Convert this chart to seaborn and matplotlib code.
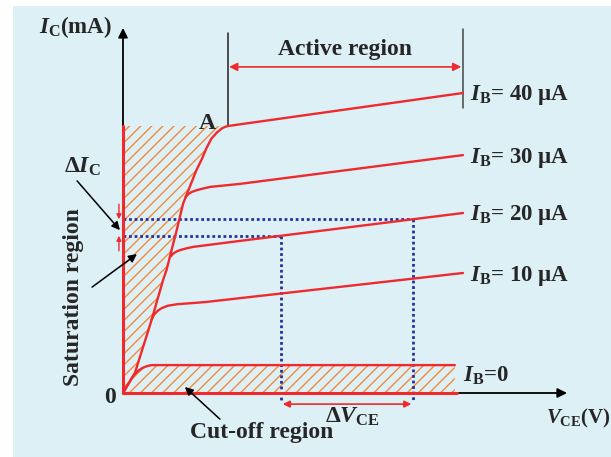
import numpy as np
import pandas as pd
import seaborn as sns
import matplotlib.pyplot as plt
from matplotlib.patches import Rectangle

# output characteristics of a CE transistor, VCE in V, IC in mA
vce_40 = [0, 0.26, 0.35, 0.59, 0.84, 1.18, 1.28, 1.58, 1.77, 2.16, 2.32, 2.45, 2.60,
          2.76, 2.91, 3.00, 3.09, 10.0]
ic_40 = [0, 0.50, 0.67, 1.53, 2.43, 3.77, 4.10, 5.43, 6.32, 7.43, 7.80, 8.15, 8.48,
         8.68, 8.82, 8.87, 8.90, 10.0]
vce_30 = [1.84, 1.92, 2.02, 2.14, 2.30, 2.56, 3.44, 10.0]
ic_30 = [6.53, 6.63, 6.70, 6.75, 6.80, 6.87, 6.97, 7.93]
vce_20 = [1.40, 1.48, 1.58, 1.70, 1.86, 2.06, 3.44, 10.0]
ic_20 = [4.55, 4.65, 4.72, 4.77, 4.82, 4.87, 5.07, 6.00]
vce_10 = [0.84, 0.92, 1.02, 1.14, 1.32, 1.60, 2.41, 10.0]
ic_10 = [2.45, 2.62, 2.74, 2.83, 2.91, 2.96, 3.03, 4.00]
vce_0 = [0, 0.26, 0.36, 0.46, 0.58, 0.72, 0.84, 9.76]
ic_0 = [0, 0.50, 0.64, 0.75, 0.84, 0.90, 0.93, 0.93]

ib_labels = ["40", "30", "20", "10", "0"]
knee_a = 16  # index of point A on the 40 uA curve
dv_points = [4.65, 8.53]  # VCE used for the delta construction

red = "#ee2a2e"
hatch_col = "#f28a3c"
blue = "#23339a"

sns.set_theme(style="white")
plt.rcParams["font.family"] = ["Liberation Serif", "DejaVu Serif"]
plt.rcParams["font.weight"] = "bold"
plt.rcParams["mathtext.fontset"] = "custom"
plt.rcParams["mathtext.rm"] = "Liberation Serif:bold"
plt.rcParams["mathtext.it"] = "Liberation Serif:italic:bold"
plt.rcParams["mathtext.bf"] = "Liberation Serif:bold"
plt.rcParams["hatch.linewidth"] = 1.0

curves = [(vce_40, ic_40), (vce_30, ic_30), (vce_20, ic_20), (vce_10, ic_10), (vce_0, ic_0)]
rows = []
for lab, (xs, ys) in zip(ib_labels, curves):
    for x, y in zip(xs, ys):
        rows.append({"VCE": x, "IC": y, "IB": lab})
df = pd.DataFrame(rows)

fig = plt.figure(figsize=(6.11, 4.57), dpi=100)
fig.patches.append(Rectangle((13 / 611, 0), 1, 451 / 457, transform=fig.transFigure,
                             facecolor="#ddf0f6", edgecolor="none", zorder=-5))
ax = fig.add_axes([0, 0, 1, 1])
ax.set_xlim(-123 / 34, 488 / 34)
ax.set_ylim(-64 / 30, 393 / 30)
ax.axis("off")
ax.patch.set_alpha(0)

# hatched regions
ax.fill_betweenx(ic_40[:knee_a + 1], 0, vce_40[:knee_a + 1], facecolor="none",
                 edgecolor=hatch_col, hatch="///", linewidth=0, zorder=1)
ax.fill_between(vce_0, 0, ic_0, facecolor="none", edgecolor=hatch_col,
                hatch="///", linewidth=0, zorder=1)

# axes with arrows
ax.annotate("", xy=(0, 12.17), xytext=(0, 0),
            arrowprops=dict(arrowstyle="-|>", color="black", lw=1.3, mutation_scale=14,
                            shrinkA=0, shrinkB=0))
ax.annotate("", xy=(13.06, 0), xytext=(0, 0),
            arrowprops=dict(arrowstyle="-|>", color="black", lw=1.3, mutation_scale=14,
                            shrinkA=0, shrinkB=0))
ax.plot([0, 0], [0, ic_40[knee_a]], color=red, lw=2.2, zorder=3)
ax.plot([0, vce_0[-1] + 0.05], [0, 0], color=red, lw=2.2, zorder=3)

# characteristic curves
sns.lineplot(data=df, x="VCE", y="IC", hue="IB", palette=[red] * 5, sort=False,
             estimator=None, legend=False, lw=1.7, ax=ax, zorder=4)

# delta construction
ic_dv = np.interp(dv_points, vce_20[-3:], ic_20[-3:])
for x, y in zip(dv_points, ic_dv):
    ax.plot([0, x], [y, y], color=blue, lw=2.0, ls=(0, (1, 1)), zorder=2)
    ax.plot([x, x], [y, -0.23], color=blue, lw=2.0, ls=(0, (1, 1)), zorder=2)

ax.annotate("", xy=(dv_points[0] + 0.05, -0.37), xytext=(dv_points[1] - 0.05, -0.37),
            arrowprops=dict(arrowstyle="<|-|>", color=red, lw=1.2, mutation_scale=10,
                            shrinkA=0, shrinkB=0))
ax.annotate("", xy=(-0.12, ic_dv[1]), xytext=(-0.12, ic_dv[1] + 0.5),
            arrowprops=dict(arrowstyle="-|>", color=red, lw=1, mutation_scale=7,
                            shrinkA=0, shrinkB=0))
ax.annotate("", xy=(-0.12, ic_dv[0]), xytext=(-0.12, ic_dv[0] - 0.5),
            arrowprops=dict(arrowstyle="-|>", color=red, lw=1, mutation_scale=7,
                            shrinkA=0, shrinkB=0))

# active region marker
ax.plot([vce_40[knee_a]] * 2, [ic_40[knee_a], 12.0], color="#222222", lw=1.1)
ax.plot([vce_40[-1]] * 2, [9.5, 12.13], color="#444444", lw=1.1)
ax.annotate("", xy=(vce_40[knee_a] + 0.03, 10.87), xytext=(vce_40[-1] - 0.05, 10.87),
            arrowprops=dict(arrowstyle="<|-|>", color=red, lw=1.2, mutation_scale=12,
                            shrinkA=0, shrinkB=0))

fs = 17
ax.text(6.53, 11.25, "Active region", fontsize=fs, ha="center", va="baseline")
ax.text(2.49, 8.8, "A", fontsize=fs, ha="center", va="baseline")
for lab, (xs, ys) in zip(ib_labels[:4], curves[:4]):
    ax.text(10.2, ys[-1] - 0.25, r"$I_{\mathrm{B}}$= " + lab + " μA", fontsize=16.5,
            ha="left", va="baseline")
ax.text(10.0, 0.37, r"$I_{\mathrm{B}}$=0", fontsize=16.5, ha="left", va="baseline")
ax.text(-0.32, 12.0, r"$I_{\mathrm{C}}$(mA)", fontsize=16.5, ha="right", va="baseline")
ax.text(12.44, -1.0, r"$V_{\mathrm{CE}}$(V)", fontsize=15, ha="left", va="baseline")
ax.text(-0.2, -0.33, "0", fontsize=fs, ha="right", va="baseline")
ax.text(-1.21, 7.33, r"Δ$I_{\mathrm{C}}$", fontsize=fs, ha="center", va="baseline")
ax.text(6.74, -1.0, r"Δ$V_{\mathrm{CE}}$", fontsize=fs, ha="center", va="baseline")
ax.text(4.09, -1.5, "Cut-off region", fontsize=fs, ha="center", va="baseline")
ax.text(-1.46, 3.2, "Saturation region", fontsize=fs, ha="center", va="center", rotation=90)

arrow_k = dict(arrowstyle="-|>", color="black", lw=1.1, mutation_scale=12,
               shrinkA=0, shrinkB=0)
ax.annotate("", xy=(-0.09, 5.43), xytext=(-1.35, 7.07), arrowprops=arrow_k)
ax.annotate("", xy=(0.41, 4.63), xytext=(-0.91, 3.53), arrowprops=arrow_k)
ax.annotate("", xy=(1.82, 0.2), xytext=(2.85, -0.87), arrowprops=arrow_k)

fig.savefig("out.png", dpi=100)
